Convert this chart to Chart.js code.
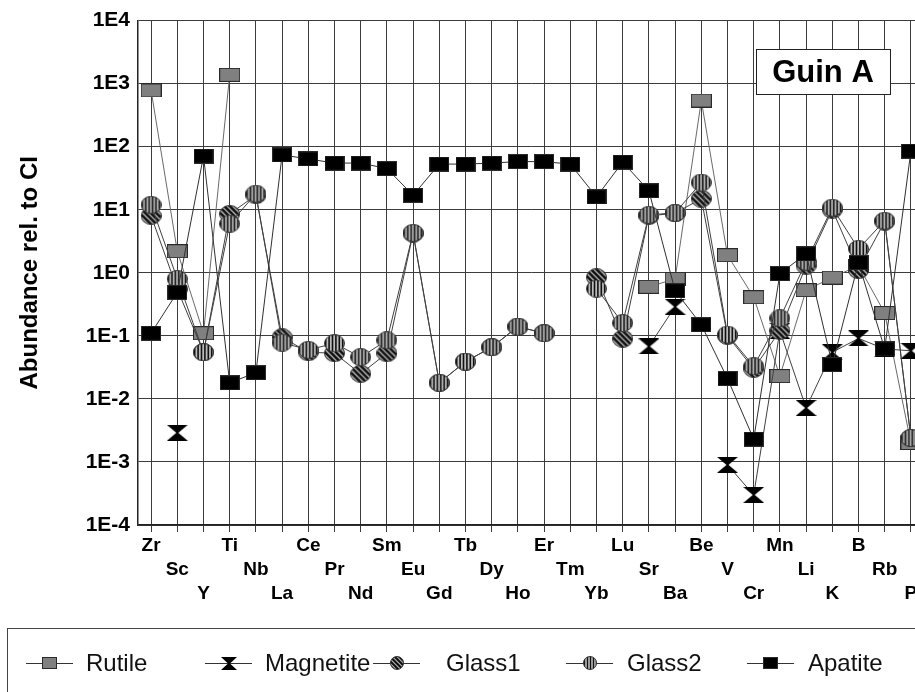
<!DOCTYPE html>
<html><head><meta charset="utf-8">
<script src="https://cdn.jsdelivr.net/npm/chart.js@4.4.0/dist/chart.umd.min.js"></script>
<style>
html,body{margin:0;padding:0;background:#fff;overflow:hidden;width:915px;height:692px}
#wrap{position:absolute;left:0;top:0;width:936px;height:692px}
</style></head><body>
<div id="wrap"><canvas id="c"></canvas></div>
<script>
// ---------------- data ----------------
const elements = ['Zr','Sc','Y','Ti','Nb','La','Ce','Pr','Nd','Sm','Eu','Gd','Tb','Dy','Ho','Er','Tm','Yb','Lu','Sr','Ba','Be','V','Cr','Mn','Li','K','B','Rb','P'];
const rutile    = [780, 2.2, 0.11, 1380, null, null, null, null, null, null, null, null, null, null, null, null, null, null, null, 0.6, 0.8, 540, 1.9, 0.41, 0.023, 0.53, 0.84, 1.3, 0.23, 0.002];
const magnetite = [null, 0.0029, null, null, null, null, null, null, null, null, null, null, null, null, null, null, null, null, null, 0.068, 0.29, null, 0.0009, 0.0003, 0.12, 0.0072, 0.055, 0.091, 0.062, 0.058];
const glass1    = [8, 0.55, 0.055, 8.6, 17, 0.095, 0.055, 0.053, 0.025, 0.053, 4.2, 0.018, 0.039, 0.066, 0.14, 0.11, null, 0.85, 0.09, 8, 8.8, 15, 0.1, 0.03, 0.12, 1.3, 10, 1.1, 6.5, 0.0024];
const glass2    = [12, 0.8, 0.055, 6, 18, 0.078, 0.06, 0.076, 0.046, 0.085, 4.3, 0.018, 0.039, 0.066, 0.14, 0.11, null, 0.56, 0.16, 8.3, 8.9, 27, 0.105, 0.033, 0.19, 1.5, 10.8, 2.4, 6.7, 0.0024];
const apatite   = [0.11, 0.49, 71, 0.018, 0.026, 74, 64, 55, 55, 45, 17, 53, 53, 55, 58, 58, 53, 16, 57, 20, 0.52, 0.15, 0.021, 0.0023, 0.97, 2.0, 0.035, 1.45, 0.062, 85];
const seriesNames = ['Rutile','Magnetite','Glass1','Glass2','Apatite'];
const yTickExponents = [-4,-3,-2,-1,0,1,2,3,4];
const yTitle = 'Abundance rel. to CI';
const sampleLabel = 'Guin A';

// ---------------- markers ----------------
function mk(w,h){const c=document.createElement('canvas');c.width=w;c.height=h;return c;}
function rectMarker(w,h,fill){const c=mk(w,h),g=c.getContext('2d');g.fillStyle=fill;g.fillRect(0,0,w,h);g.strokeStyle='#2a2a2a';g.lineWidth=1;g.strokeRect(0.5,0.5,w-1,h-1);return c;}
function hourglass(w,h){const c=mk(w,h),g=c.getContext('2d');g.fillStyle='#000';g.beginPath();g.moveTo(0,0);g.lineTo(w,0);g.lineTo(w/2+1,h/2);g.lineTo(w,h);g.lineTo(0,h);g.lineTo(w/2-1,h/2);g.closePath();g.fill();return c;}
function striped(w,h,diag,step,lw){const c=mk(w,h),g=c.getContext('2d');
  g.save();g.beginPath();g.ellipse(w/2,h/2,w/2-0.5,h/2-0.5,0,0,Math.PI*2);g.fillStyle='#bdbdbd';g.fill();g.clip();
  g.strokeStyle='#111';g.lineWidth=lw;
  if(diag){for(let k=-h;k<w+h;k+=step){g.beginPath();g.moveTo(k,0);g.lineTo(k+h,h);g.stroke();}}
  else{for(let x=step/2;x<w;x+=step){g.beginPath();g.moveTo(x,0);g.lineTo(x,h);g.stroke();}}
  g.restore();g.beginPath();g.ellipse(w/2,h/2,w/2-0.5,h/2-0.5,0,0,Math.PI*2);g.strokeStyle='#333';g.lineWidth=1;g.stroke();return c;}

const bigMarkers = [rectMarker(21,14,'#808080'), hourglass(21,16), striped(21,18,true,5.5,2.6), striped(21,18,false,3.4,1.6), rectMarker(20,15,'#000')];
const smallMarkers = [rectMarker(15,12,'#808080'), hourglass(16,13), striped(14,14,true,4.5,2.2), striped(14,14,false,3,1.4), rectMarker(15,12,'#000')];
const lineColors = ['#6a6a6a','#404040','#404040','#404040','#303030'];
const values = [rutile, magnetite, glass1, glass2, apatite];

const datasets = values.map((v,i)=>({
  label: seriesNames[i], data: v, order: 5-i,
  borderColor: lineColors[i], borderWidth: 1, spanGaps: false,
  pointStyle: bigMarkers[i], pointRadius: 8, pointHoverRadius: 8, tension: 0
}));

const FONT = '"Liberation Sans", Arial, sans-serif';
const labels = elements.map((e,i)=> i%3===0 ? [e] : (i%3===1 ? ['',e] : ['','',e]));

const deco = {
  id:'deco',
  beforeDraw(chart){const ctx=chart.ctx;ctx.save();ctx.fillStyle='#fff';ctx.fillRect(0,0,chart.width,chart.height);ctx.restore();},
  afterDatasetsDraw(chart){
    const ctx=chart.ctx; ctx.save();
    // sample label box
    ctx.fillStyle='#fff'; ctx.fillRect(756,49,134,45);
    ctx.strokeStyle='#222'; ctx.lineWidth=1; ctx.strokeRect(756.5,49.5,134,45);
    ctx.font='bold 31px '+FONT; ctx.fillStyle='#000'; ctx.textAlign='center'; ctx.textBaseline='middle';
    ctx.fillText(sampleLabel, 823, 73);
    // legend box
    ctx.strokeStyle='#444'; ctx.lineWidth=1; ctx.strokeRect(7.5,628.5,1000,120);
    const pos=[[26,86],[205,265],[373,446],[566,627],[747,808]];
    const y=663;
    ctx.font='24px '+FONT; ctx.textAlign='left'; ctx.textBaseline='middle';
    chart.data.datasets.forEach((d,i)=>{
      const [x0,tx]=pos[i];
      ctx.strokeStyle='#333'; ctx.lineWidth=1.2; ctx.beginPath(); ctx.moveTo(x0,y+0.5); ctx.lineTo(x0+47,y+0.5); ctx.stroke();
      const m=smallMarkers[i]; ctx.drawImage(m, Math.round(x0+23.5-m.width/2), Math.round(y-m.height/2));
      ctx.fillStyle='#111'; ctx.fillText(d.label, tx, y+1);
    });
    ctx.restore();
  }
};

new Chart(document.getElementById('c'), {
  type:'line',
  data:{labels, datasets},
  options:{
    responsive:true, maintainAspectRatio:false, animation:false,
    layout:{padding:{top:19,right:12,left:0,bottom:0}},
    plugins:{legend:{display:false}, tooltip:{enabled:false}},
    scales:{
      x:{
        type:'category', offset:true,
        grid:{color:'#3c3c3c', lineWidth:1, tickLength:7, drawTicks:true, offset:false},
        border:{color:'#222', width:1.5},
        ticks:{autoSkip:false, maxRotation:0, minRotation:0, padding:2, color:'#000',
               font:{family:FONT, size:19, weight:'bold', lineHeight:'24px'}},
        afterFit(s){ s.height = 692-525; }
      },
      y:{
        type:'logarithmic', min:1e-4, max:1e4,
        afterBuildTicks(s){ s.ticks = yTickExponents.map(e=>({value:Math.pow(10,e)})); },
        grid:{color:'#3c3c3c', lineWidth:1, drawTicks:false},
        border:{color:'#222', width:1.5},
        ticks:{padding:8, color:'#000', font:{family:FONT, size:21, weight:'bold'},
               callback:(v)=>'1E'+Math.round(Math.log10(v))},
        title:{display:true, text:yTitle, color:'#000', font:{family:FONT, size:24, weight:'bold'}, padding:{top:16,bottom:0}},
        afterFit(s){ s.width = 138; }
      }
    }
  },
  plugins:[deco]
});
</script>
</body></html>
